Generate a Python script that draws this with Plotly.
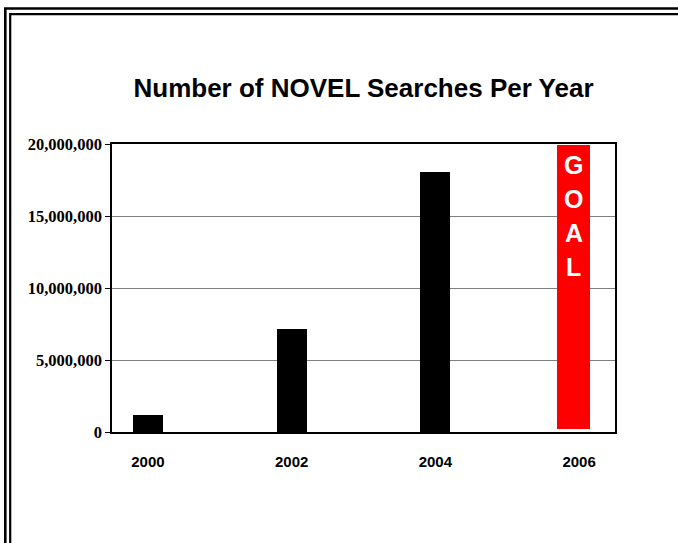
import plotly.graph_objects as go

# ---- data ----
years = ["2000", "2002", "2004", "2006"]
searches = [1180000, 7130000, 18050000]          # actual searches 2000-2004
goal_year_index = 3
goal_base = 230000
goal_top = 19950000
goal_label = "GOAL"
y_ticks = [0, 5000000, 10000000, 15000000, 20000000]
title_text = "Number of NOVEL Searches Per Year"

W, H = 678, 543
L, R, T, B = 112, 63, 144, 111
pw, ph = W - L - R, H - T - B

def px_to_paper_x(px):
    return (px - L) / pw

def px_to_paper_y(py):
    return (H - B - py) / ph

fig = go.Figure()

fig.add_trace(go.Bar(
    x=list(range(len(searches))),
    y=searches,
    width=0.209,
    marker=dict(color="black", line=dict(width=0)),
    showlegend=False,
))

fig.add_trace(go.Bar(
    x=[goal_year_index],
    y=[goal_top - goal_base],
    base=[goal_base],
    width=0.23,
    offset=-0.153,
    marker=dict(color="#ff0000", line=dict(width=0)),
    showlegend=False,
))

# GOAL letters stacked vertically inside the red bar
letter_y0 = 165
letter_step = 34
for i, ch in enumerate(goal_label):
    fig.add_annotation(
        x=px_to_paper_x(573.5), xref="paper",
        y=px_to_paper_y(letter_y0 + i * letter_step), yref="paper",
        text=ch, showarrow=False,
        font=dict(family="Liberation Sans, Arial", size=25, color="white", weight="bold"),
        xanchor="center", yanchor="middle",
    )

# double frame around the slide
shapes = []
for (x0, y0, lw) in [(5.3, 8.5, 2.6), (10.2, 14.2, 2.2)]:
    shapes.append(dict(
        type="path",
        xref="paper", yref="paper",
        path=f"M {px_to_paper_x(x0)},{px_to_paper_y(H + 20)} L {px_to_paper_x(x0)},{px_to_paper_y(y0)} L {px_to_paper_x(W + 20)},{px_to_paper_y(y0)}",
        line=dict(color="black", width=lw),
        layer="above",
    ))

fig.update_layout(
    width=W, height=H,
    margin=dict(l=L, r=R, t=T, b=B, pad=0),
    paper_bgcolor="white",
    plot_bgcolor="white",
    barmode="overlay",
    bargap=0,
    shapes=shapes,
    title=dict(
        text=title_text,
        x=0.5, xref="paper",
        y=1 - 88 / H, yref="container", yanchor="middle",
        font=dict(family="Liberation Sans, Arial", size=26, color="black", weight="bold"),
    ),
    xaxis=dict(
        range=[-0.25, 3.25],
        tickvals=list(range(len(years))),
        ticktext=years,
        showgrid=False,
        zeroline=False,
        showline=True, linecolor="black", linewidth=1.5, mirror=True,
        ticks="", ticklabelstandoff=15,
        tickfont=dict(family="Liberation Sans, Arial", size=15, color="black", weight="bold"),
    ),
    yaxis=dict(
        range=[0, 20000000],
        tickvals=y_ticks,
        tickformat=",d",
        showgrid=True, gridcolor="#808080", gridwidth=1,
        zeroline=False,
        showline=True, linecolor="black", linewidth=1.5, mirror=True,
        ticks="outside", ticklen=5, tickcolor="black", tickwidth=1,
        tickfont=dict(family="Liberation Serif, Times New Roman", size=16.5, color="black", weight="bold"),
    ),
)

fig.write_html("out.html")
